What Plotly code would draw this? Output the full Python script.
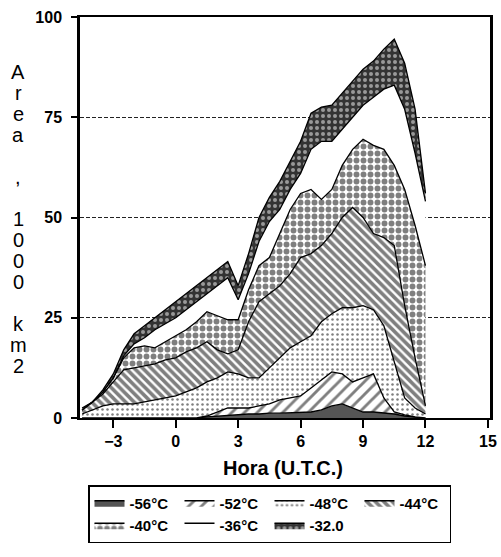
import plotly.graph_objects as go

# Hour (U.T.C.)
hours = [-4.5, -4, -3.5, -3, -2.5, -2, -1.5, -1, -0.5, 0, 0.5, 1, 1.5, 2, 2.5, 3,
         3.5, 4, 4.5, 5, 5.5, 6, 6.5, 7, 7.5, 8, 8.5, 9, 9.5, 10, 10.5, 11, 11.5, 12]

# Area (1000 km2) of each temperature band (stacked)
area_m56 = [0, 0, 0, 0, 0, 0, 0, 0, 0, 0, 0, 0, 0.3, 0.5, 0.7, 0.8,
            1, 1, 1.2, 1.2, 1.3, 1.5, 1.5, 2, 3, 3.5, 2.5, 1.5, 1.5, 1.2, 1, 0.5, 0.2, 0]
area_m52 = [0, 0, 0, 0, 0, 0, 0, 0, 0, 0, 0, 0, 0.2, 1.0, 1.8, 1.7,
            1.5, 2.0, 2.3, 3.3, 3.7, 4.0, 6.0, 7.5, 8.5, 7.5, 6.5, 8.5, 9.5, 3.8, 0.5, 0.3, 0.1, 0]
area_m48 = [1, 2, 3, 3.5, 3.5, 3.5, 4, 4.5, 5, 5.5, 6.5, 7.5, 8.5, 8.5, 9, 8.5,
            7.5, 7, 9, 10.5, 12.5, 13.5, 13, 14.5, 14.5, 16.5, 18.5, 18, 16, 18, 12.5, 4.2, 2.2, 1]
area_m44 = [1, 2, 3, 5.5, 8.5, 9, 9, 9, 9.5, 9.5, 10, 10, 10, 7, 4.5, 6,
            14, 19, 18.5, 18, 18.5, 21, 20.5, 19, 20, 22.5, 25, 22, 19, 22, 29, 23, 12.5, 2]
area_m40 = [0, 0, 0.5, 1, 3, 5, 5, 4, 4.5, 5.5, 5.5, 6.5, 7.5, 8.5, 8.5, 7.5,
            8, 9, 9, 13, 16, 16, 16, 11.5, 11, 13, 14.5, 19.5, 22, 22, 20, 29, 33, 35]
area_m36 = [0, 0, 0, 0, 0.5, 1, 2, 4.5, 4.5, 4.5, 5, 5, 4.5, 7.5, 10.5, 5,
            4, 6, 9, 6, 5, 5, 10, 14.5, 12, 9, 8, 8.5, 12, 15, 20, 20, 18, 16]
area_m32 = [0.5, 0, 0.5, 1, 1.5, 2.5, 3, 3, 3.5, 4, 4, 4, 4, 4, 4, 3.5,
            5, 6, 6, 7, 7, 8, 9, 8.5, 9, 9, 9, 9, 9, 10, 11.5, 11.5, 11, 2]

labels = ["-56°C", "-52°C", "-48°C", "-44°C", "-40°C", "-36°C", "-32.0"]
series = [area_m56, area_m52, area_m48, area_m44, area_m40, area_m36, area_m32]

x_ticks = [-3, 0, 3, 6, 9, 12, 15]
y_ticks = [0, 25, 50, 75, 100]

styles = [
    dict(fillcolor="#555555"),
    dict(fillpattern=dict(shape="/", fgcolor="black", bgcolor="white", size=9, solidity=0.32)),
    dict(fillpattern=dict(shape=".", fgcolor="black", bgcolor="white", size=5, solidity=0.2)),
    dict(fillpattern=dict(shape="\\", fgcolor="black", bgcolor="white", size=6, solidity=0.6)),
    dict(fillpattern=dict(shape=".", fgcolor="black", bgcolor="white", size=7, solidity=0.55)),
    dict(fillcolor="white"),
    dict(fillpattern=dict(shape=".", fgcolor="white", bgcolor="#333333", size=6, solidity=0.35)),
]

FONT = "Liberation Sans, Arial, sans-serif"

fig = go.Figure()
for lab, vals, st in zip(labels, series, styles):
    fig.add_trace(go.Scatter(
        x=hours, y=vals, name=lab, stackgroup="one", mode="lines",
        line=dict(color="black", width=1.3), **st))

fig.update_layout(
    width=501, height=557,
    margin=dict(l=80, r=11, t=17, b=139, autoexpand=False),
    paper_bgcolor="white", plot_bgcolor="white",
    font=dict(family=FONT, color="black"),
    showlegend=True,
    legend=dict(orientation="h", xref="container", x=88 / 501, xanchor="left",
                yref="container", y=(557 - 485) / 557, yanchor="top",
                bordercolor="black", borderwidth=1.5, traceorder="normal",
                font=dict(size=15, family=FONT, weight="bold"),
                entrywidth=45, entrywidthmode="pixels", itemwidth=30),
)
fig.update_xaxes(range=[-4.6, 15.1], tickvals=x_ticks, ticks="outside", ticklen=8,
                 tickwidth=1.5, tickcolor="black", showgrid=False, zeroline=False,
                 showline=True, linecolor="black", linewidth=2, mirror=True,
                 automargin=False,
                 tickfont=dict(size=16, family=FONT, weight="bold"))
fig.update_yaxes(range=[0, 100], tickvals=y_ticks, ticks="outside", ticklen=6,
                 tickwidth=1.5, tickcolor="black", showgrid=True, gridcolor="#222",
                 griddash="4px,2px", gridwidth=1, zeroline=False,
                 showline=True, linecolor="black", linewidth=2.5, mirror=True,
                 ticklabelstandoff=6, automargin=False,
                 tickfont=dict(size=16, family=FONT, weight="bold"))

fig.add_annotation(text="Hora (U.T.C.)", xref="paper", yref="paper",
                   x=(283 - 80) / 410, y=(418 - 468) / 401, showarrow=False,
                   xanchor="center", yanchor="middle",
                   font=dict(size=20, family=FONT, weight="bold"))

ytitle = ["A", "r", "e", "a", "", ",", "", "1", "0", "0", "0", "", "k", "m", "2"]
for i, ch in enumerate(ytitle):
    if not ch:
        continue
    py = 72 + 21 * i
    fig.add_annotation(text=ch, xref="paper", yref="paper",
                       x=(18 - 80) / 410, y=(418 - py) / 401, showarrow=False,
                       xanchor="center", yanchor="middle",
                       font=dict(size=20, family=FONT))

fig.write_html("out.html", config={"displayModeBar": False},
               post_script="document.body.style.margin='0';")
